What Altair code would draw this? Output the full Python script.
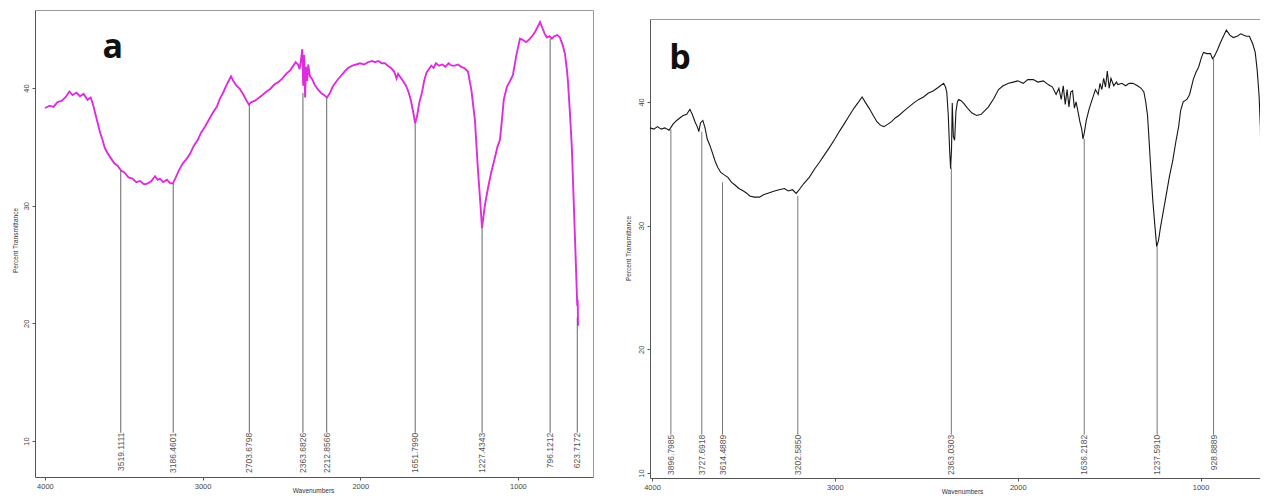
import altair as alt
import pandas as pd

# ---------------- data ----------------
X_TICKS = [4000, 3000, 2000, 1000]
Y_TICKS = [10, 20, 30, 40]

A_WN = [4000, 3970, 3945, 3920, 3895, 3870, 3845, 3825, 3800, 3778,
        3755, 3730, 3710, 3695, 3680, 3665, 3650, 3635, 3620, 3600,
        3580, 3560, 3540, 3518, 3495, 3470, 3445, 3420, 3397, 3370,
        3347, 3325, 3302, 3285, 3271, 3250, 3226, 3205, 3188, 3170,
        3150, 3125, 3100, 3080, 3055, 3030, 3010, 2985, 2960, 2935,
        2910, 2890, 2870, 2850, 2835, 2820, 2805, 2785, 2763, 2740,
        2720, 2706, 2690, 2670, 2649, 2620, 2595, 2573, 2545, 2520,
        2495, 2470, 2445, 2425, 2410, 2395, 2385, 2375, 2368, 2362,
        2356, 2350, 2344, 2337, 2330, 2320, 2307, 2290, 2270, 2250,
        2230, 2211, 2195, 2175, 2150, 2125, 2100, 2078, 2050, 2025,
        2002, 1975, 1950, 1925, 1907, 1885, 1865, 1844, 1825, 1805,
        1785, 1770, 1760, 1745, 1729, 1710, 1695, 1680, 1665, 1652,
        1640, 1625, 1609, 1595, 1580, 1565, 1550, 1535, 1520, 1500,
        1480, 1460, 1440, 1420, 1400, 1380, 1360, 1340, 1317, 1295,
        1273, 1254, 1240, 1228, 1210, 1190, 1170, 1146, 1130, 1114,
        1100, 1090, 1070, 1050, 1032, 1010, 987, 970, 949, 930,
        910, 890, 875, 860, 845, 830, 816, 800, 785, 770,
        750, 734, 715, 702, 690, 683, 670, 658, 648, 639,
        630, 624, 621, 619]
A_T = [38.3, 38.5, 38.4, 38.8, 38.9, 39.2, 39.7, 39.4, 39.6, 39.3,
       39.5, 39.0, 39.2, 38.6, 37.8, 37.0, 36.2, 35.6, 34.9, 34.4,
       34.0, 33.6, 33.4, 33.0, 32.8, 32.4, 32.3, 32.0, 32.1, 31.8,
       31.9, 32.1, 32.5, 32.2, 32.3, 32.0, 32.2, 31.9, 31.9, 32.4,
       33.0, 33.6, 34.0, 34.4, 35.1, 35.6, 36.2, 36.7, 37.3, 37.9,
       38.4, 39.1, 39.6, 40.2, 40.6, 41.0, 40.6, 40.2, 39.9, 39.4,
       38.9, 38.6, 38.8, 38.9, 39.1, 39.4, 39.7, 39.9, 40.3, 40.5,
       40.8, 41.2, 41.5, 41.9, 42.2, 42.0, 41.6, 42.5, 43.3, 40.2,
       42.8, 39.2, 41.8, 40.6, 42.0, 41.0, 40.8, 40.3, 39.9, 39.6,
       39.4, 39.2, 39.5, 40.1, 40.6, 41.0, 41.4, 41.7, 41.9, 42.0,
       42.1, 42.0, 42.2, 42.3, 42.2, 42.3, 42.1, 42.1, 41.9, 41.7,
       41.4, 40.8, 41.2, 40.9, 40.6, 40.2, 39.7, 39.0, 38.0, 37.0,
       37.6, 38.8, 39.6, 40.6, 41.3, 41.6, 41.9, 41.7, 42.1, 41.9,
       42.0, 41.8, 42.1, 41.9, 41.9, 42.0, 41.8, 41.7, 41.4, 39.8,
       37.3, 33.1, 30.5, 28.1, 30.0, 31.5, 32.8, 34.1, 35.0, 35.6,
       37.5, 39.0, 40.1, 40.6, 41.1, 42.8, 44.2, 44.1, 43.9, 44.1,
       44.4, 44.8, 45.2, 45.6, 45.1, 44.6, 44.3, 44.4, 44.2, 44.4,
       44.5, 44.3, 43.6, 42.9, 41.6, 40.6, 37.8, 34.9, 31.0, 27.5,
       24.0, 21.5, 22.0, 19.8]

A_PEAK_WN = [3519.1111, 3186.4601, 2703.6798, 2363.6826, 2212.8566,
             1651.7990, 1227.4343, 796.1212, 623.7172]
A_PEAK_TOP = [33.0, 31.9, 38.6, 39.6, 39.2, 37.0, 28.1, 44.2, 20.5]
A_LABEL_Y = 10.7

B_WN = [4011, 3990, 3970, 3950, 3930, 3907, 3885, 3865, 3848, 3830,
        3810, 3793, 3780, 3765, 3750, 3744, 3735, 3722, 3710, 3698,
        3684, 3670, 3655, 3640, 3624, 3605, 3585, 3565, 3548, 3525,
        3500, 3480, 3466, 3440, 3412, 3390, 3370, 3350, 3330, 3305,
        3276, 3255, 3232, 3211, 3190, 3170, 3140, 3110, 3085, 3058,
        3030, 3000, 2976, 2950, 2925, 2895, 2870, 2851, 2835, 2813,
        2790, 2770, 2750, 2731, 2710, 2690, 2670, 2650, 2620, 2595,
        2570, 2541, 2515, 2490, 2460, 2432, 2405, 2395, 2388, 2380,
        2372, 2367, 2362, 2358, 2352, 2345, 2338, 2330, 2323, 2310,
        2296, 2275, 2250, 2225, 2200, 2180, 2160, 2130, 2105, 2080,
        2050, 2024, 2000, 1970, 1945, 1915, 1890, 1860, 1833, 1810,
        1790, 1775, 1762, 1751, 1740, 1730, 1720, 1710, 1700, 1690,
        1681, 1670, 1660, 1650, 1643, 1636, 1625, 1610, 1595, 1588,
        1575, 1560, 1550, 1540, 1530, 1520, 1510, 1500, 1490, 1475,
        1460, 1452, 1430, 1410, 1390, 1370, 1345, 1325, 1310, 1300,
        1290, 1280, 1270, 1261, 1250, 1240, 1230, 1220, 1208, 1190,
        1170, 1153, 1135, 1120, 1109, 1095, 1075, 1060, 1040, 1025,
        1011, 995, 984, 965, 946, 935, 924, 905, 891, 875,
        859, 840, 821, 800, 780, 766, 750, 733, 715, 701,
        690, 680, 673, 665, 660]
B_T = [37.9, 37.8, 38.0, 37.8, 37.9, 37.7, 38.2, 38.5, 38.7, 38.9,
       39.0, 39.4, 39.0, 38.4, 37.9, 37.6, 38.3, 38.5, 37.9, 37.0,
       36.5, 35.9, 35.2, 34.7, 34.3, 34.1, 33.9, 33.5, 33.3, 33.0,
       32.8, 32.6, 32.4, 32.3, 32.3, 32.5, 32.6, 32.7, 32.8, 32.9,
       33.0, 32.8, 32.9, 32.6, 33.0, 33.4, 33.9, 34.6, 35.1, 35.7,
       36.3, 37.0, 37.6, 38.2, 38.8, 39.5, 40.0, 40.4, 40.0, 39.5,
       38.9, 38.4, 38.1, 38.0, 38.2, 38.4, 38.7, 38.9, 39.3, 39.6,
       39.9, 40.2, 40.4, 40.7, 40.9, 41.2, 41.5, 41.2, 40.8, 39.0,
       36.0, 34.6, 36.2, 39.9, 37.2, 36.9, 39.2, 40.0, 40.2, 40.1,
       39.9, 39.5, 39.1, 38.9, 39.0, 39.3, 39.6, 40.3, 41.0, 41.3,
       41.5, 41.6, 41.7, 41.5, 41.8, 41.8, 41.6, 41.7, 41.4, 41.2,
       40.6, 41.1, 40.2, 41.3, 39.8, 41.0, 39.6, 40.8, 40.9, 39.5,
       40.0, 39.2, 38.4, 37.8, 37.0, 37.5, 38.5, 39.4, 40.1, 40.4,
       41.0, 40.6, 41.5, 41.0, 41.9, 41.2, 42.5, 41.1, 41.9, 41.3,
       41.6, 41.4, 41.5, 41.3, 41.5, 41.5, 41.3, 41.1, 40.8, 40.0,
       38.9, 36.5, 34.0, 32.0, 30.0, 28.3, 28.8, 29.8, 30.8, 32.3,
       34.0, 35.2, 36.8, 38.0, 39.3, 40.0, 40.2, 40.6, 41.8, 42.4,
       42.8, 43.6, 44.0, 43.9, 43.9, 43.5, 43.7, 44.3, 44.8, 45.3,
       45.8, 45.4, 45.2, 45.3, 45.5, 45.4, 45.3, 45.3, 44.7, 44.0,
       42.5, 40.5, 38.0, 30.0, 22.0]

B_PEAK_WN = [3896.7985, 3727.6918, 3614.4889, 3202.5850, 2363.0303,
             1636.2182, 1237.5910, 928.8889]
B_PEAK_TOP = [37.8, 37.6, 33.5, 32.4, 34.7, 37.0, 28.3, 43.6]
B_LABEL_Y = 13.1

PANEL_LETTERS = ["a", "b"]
LETTER_WN = [3569, 3847]
LETTER_T = [43.4, 43.5]

# ---------------- tables ----------------
curve_a = pd.DataFrame({"wn": A_WN, "t": A_T})
curve_b = pd.DataFrame({"wn": B_WN, "t": B_T})
peaks_a = pd.DataFrame({"wn": A_PEAK_WN, "top": A_PEAK_TOP,
                        "ly": [A_LABEL_Y] * len(A_PEAK_WN),
                        "lab": [f"{v:.4f}" for v in A_PEAK_WN]})
peaks_b = pd.DataFrame({"wn": B_PEAK_WN, "top": B_PEAK_TOP,
                        "ly": [B_LABEL_Y] * len(B_PEAK_WN),
                        "lab": [f"{v:.4f}" for v in B_PEAK_WN]})
letter_a = pd.DataFrame({"wn": [LETTER_WN[0]], "t": [LETTER_T[0]], "s": [PANEL_LETTERS[0]]})
letter_b = pd.DataFrame({"wn": [LETTER_WN[1]], "t": [LETTER_T[1]], "s": [PANEL_LETTERS[1]]})

# ---------------- scales (pixel placement of the two panels) ----------------
W, H = 1252, 486
sx_a = alt.Scale(domain=[4063, 524], range=[27, 585], nice=False, zero=False)
sy_a = alt.Scale(domain=[6.94, 46.63], range=[469, 2], nice=False, zero=False)
sx_b = alt.Scale(domain=[4011, 675], range=[642, 1252], nice=False, zero=False)
sy_b = alt.Scale(domain=[9.6, 46.7], range=[470, 11], nice=False, zero=False)

common = dict(grid=False, labelFont="Liberation Sans", labelFontSize=7.5,
              labelColor="#444", tickColor="#555", domainColor="#555",
              tickSize=3, titleFont="Liberation Sans", titleFontSize=6.5,
              titleFontWeight="normal", titleColor="#333", labelFlush=False)


def x_axis(offset, title_x):
    return alt.Axis(orient="bottom", offset=offset, values=X_TICKS, format="d",
                    labelPadding=2, title="Wavenumbers", titleX=title_x,
                    titleY=16, titleAlign="center", titleBaseline="bottom",
                    titleAngle=0, **common)


def y_axis(offset, title_x, title_y):
    return alt.Axis(orient="left", offset=offset, values=Y_TICKS,
                    labelAngle=270, labelAlign="center", labelBaseline="bottom",
                    labelPadding=2, title="Percent Transmittance",
                    titleX=title_x, titleY=title_y, titleAngle=270,
                    titleAlign="center", titleBaseline="middle", **common)


def frame_axis(orient, offset):
    return alt.Axis(orient=orient, offset=offset, labels=False, ticks=False,
                    grid=False, domainColor="#9a9a9a", title="")


def panel(curve, peaks, letter, sx, sy, color, width, rule_color,
          xax, yax, top_ax, right_ax):
    line = alt.Chart(curve).mark_line(color=color, strokeWidth=width).encode(
        x=alt.X("wn:Q", scale=sx, axis=xax),
        y=alt.Y("t:Q", scale=sy, axis=yax),
    )
    rules = alt.Chart(peaks).mark_rule(color=rule_color, strokeWidth=1).encode(
        x=alt.X("wn:Q", scale=sx, axis=top_ax),
        y=alt.Y("top:Q", scale=sy, axis=right_ax),
        y2="ly:Q",
    )
    labels = alt.Chart(peaks).mark_text(
        angle=270, align="right", baseline="middle", fontSize=8.5,
        font="Liberation Sans", color="#555",
    ).encode(
        x=alt.X("wn:Q", scale=sx, axis=None),
        y=alt.Y("ly:Q", scale=sy, axis=None),
        text="lab:N",
    )
    let = alt.Chart(letter).mark_text(
        fontSize=34, fontWeight="bold", font="Open Sans", color="#111",
        align="center", baseline="middle",
    ).encode(
        x=alt.X("wn:Q", scale=sx, axis=None),
        y=alt.Y("t:Q", scale=sy, axis=None),
        text="s:N",
    )
    return [line, rules, labels, let]


layers_a = panel(curve_a, peaks_a, letter_a, sx_a, sy_a, "#dc2edc", 1.9, "#666",
                 x_axis(-17, 305), y_axis(-27, -20, 232),
                 frame_axis("top", -2), frame_axis("right", 585 - W))
layers_b = panel(curve_b, peaks_b, letter_b, sx_b, sy_b, "#161616", 1.1, "#777",
                 x_axis(-16, 954), y_axis(-642, -22, 240),
                 frame_axis("top", -11), None)

chart = alt.layer(*layers_a, *layers_b).resolve_scale(
    x="independent", y="independent"
).properties(
    width=W, height=H, padding=0,
    autosize=alt.AutoSizeParams(type="none"),
    background="white",
).configure_view(strokeWidth=0)

chart.save("out.html", embed_options={"renderer": "svg", "actions": False})
